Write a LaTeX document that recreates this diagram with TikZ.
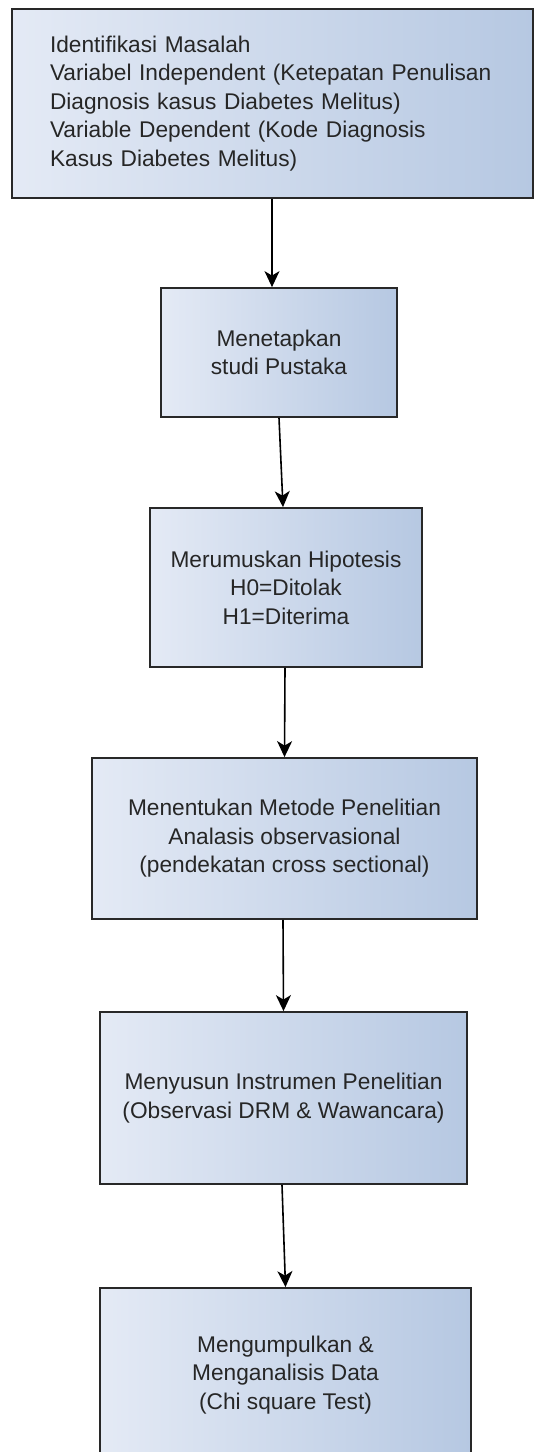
\documentclass[tikz,border=0pt]{standalone}
\usepackage{fontspec}
\setmainfont{Liberation Sans}
\usetikzlibrary{arrows.meta}
\definecolor{boxleft}{RGB}{228,234,245}
\definecolor{boxright}{RGB}{182,200,226}
\definecolor{boxline}{RGB}{40,40,40}
\definecolor{boxtext}{RGB}{38,38,38}
\tikzset{
  stepbox/.style={draw=boxline, line width=1.8pt, left color=boxleft, right color=boxright,
    inner sep=0pt, align=center, font=\fontsize{22.7}{28.5}\selectfont, text=boxtext},
  arr/.style={-{Stealth[length=16pt,width=15pt,inset=4.5pt]}, line width=1.6pt, draw=black}
}
\begin{document}
\begin{tikzpicture}[x=1pt,y=-1pt]
\useasboundingbox (0,0) rectangle (535,1452);
\clip (0,0) rectangle (535,1452);
\fill[white] (0,0) rectangle (535,1452);
\node[stepbox, minimum width=521pt, minimum height=189pt, align=left, text width=445pt, inner xsep=38pt] (b1) at (272.5,103.5)
  {Identifikasi Masalah\\Variabel Independent (Ketepatan Penulisan\\Diagnosis kasus Diabetes Melitus)\\Variable Dependent (Kode Diagnosis\\Kasus Diabetes Melitus)};
\node[stepbox, minimum width=236pt, minimum height=129pt] (b2) at (279,352.5)
  {Menetapkan\\studi Pustaka};
\node[stepbox, minimum width=272pt, minimum height=159pt] (b3) at (286,587.5)
  {Merumuskan Hipotesis\\H0=Ditolak\\H1=Diterima};
\node[stepbox, minimum width=385pt, minimum height=161pt] (b4) at (284.5,838.5)
  {Menentukan Metode Penelitian\\Analasis observasional\\(pendekatan cross sectional)};
\node[stepbox, minimum width=367pt, minimum height=172pt] (b5) at (283.5,1098)
  {Menyusun Instrumen Penelitian\\(Observasi DRM \& Wawancara)};
\node[stepbox, minimum width=371pt, minimum height=174pt] (b6) at (285.5,1375)
  {Mengumpulkan \&\\Menganalisis Data\\(Chi square Test)};
\draw[arr] ([xshift=-0.5pt]b1.south) -- ([xshift=-7pt]b2.north);
\draw[arr] (b2.south) -- ([xshift=-3pt]b3.north);
\draw[arr] ([xshift=-1pt]b3.south) -- (b4.north);
\draw[arr] ([xshift=-1.5pt]b4.south) -- (b5.north);
\draw[arr] ([xshift=-1.5pt]b5.south) -- (b6.north);
\end{tikzpicture}
\end{document}
